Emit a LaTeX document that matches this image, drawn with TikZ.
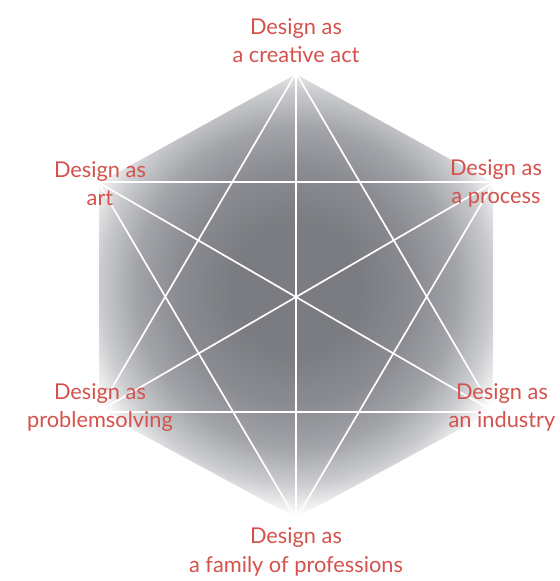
\documentclass[tikz,border=0pt]{standalone}
\usepackage{fontspec}
\setmainfont{Lato}
\usepackage{tikz}
\usetikzlibrary{positioning}
\definecolor{glowA}{RGB}{122,124,129}
\definecolor{glowB}{RGB}{138,140,145}
\definecolor{glowC}{RGB}{162,163,168}
\definecolor{glowD}{RGB}{202,203,206}
\definecolor{labelred}{RGB}{212,82,77}
\pgfdeclareradialshading{hexglow}{\pgfpointorigin}{%
  color(0bp)=(glowA); color(7bp)=(glowA); color(13bp)=(glowB);
  color(17.5bp)=(glowC); color(21.5bp)=(glowD); color(25bp)=(white);
  color(50bp)=(white)}
\tikzset{
  edge/.style={draw=white, line width=1.2pt},
  lbl/.style={text=labelred, align=center, inner sep=0pt,
    font=\fontsize{15.5}{20}\selectfont}
}

\begin{document}
\begin{tikzpicture}
    \useasboundingbox (-7.4,-7.1) rectangle (6.575,7.425);
    \def\w{4.95}
    \def\h{2.87}
    % Corners
    \coordinate (t) at (0,5.6);
    \coordinate (ur) at (\w,\h);
    \coordinate (lr) at (\w,-\h);
    \coordinate (b) at (0,-5.55);
    \coordinate (ll) at (-\w,-\h);
    \coordinate (ul) at (-\w,\h);
    % Grey glow
    \begin{scope}
      \clip (t) -- (ur) -- (lr) -- (b) -- (ll) -- (ul) -- cycle;
      \shade[shading=hexglow] (0,0.25) circle (5.7);
    \end{scope}
    % Lines
    \foreach \p[count=\i] in {t,ur,lr,b,ll,ul}{
      \foreach \q[count=\j] in {t,ur,lr,b,ll,ul}{
        \ifnum\j>\i \draw[edge] (\p) -- (\q); \fi
      }
    }
    % Node labels
    \node[lbl, above=0.25 of t] (creative) {Design as\\a creative act};
    \node[lbl, below=0.22 of b] (family) {Design as\\a family of professions};
    \node[lbl] (art) at ([xshift=0.05cm, yshift=-0.03cm]ul) {Design as\\art};
    \node[lbl] (process) at ([xshift=0.05cm, yshift=-0.03cm]ur) {Design as\\a process};
    \node[lbl] (problem) at ([xshift=0.05cm, yshift=0.1cm]ll) {Design as\\problemsolving};
    \node[lbl] (industry) at ([xshift=0.2cm, yshift=0.1cm]lr) {Design as\\an industry};
\end{tikzpicture}
\end{document}
